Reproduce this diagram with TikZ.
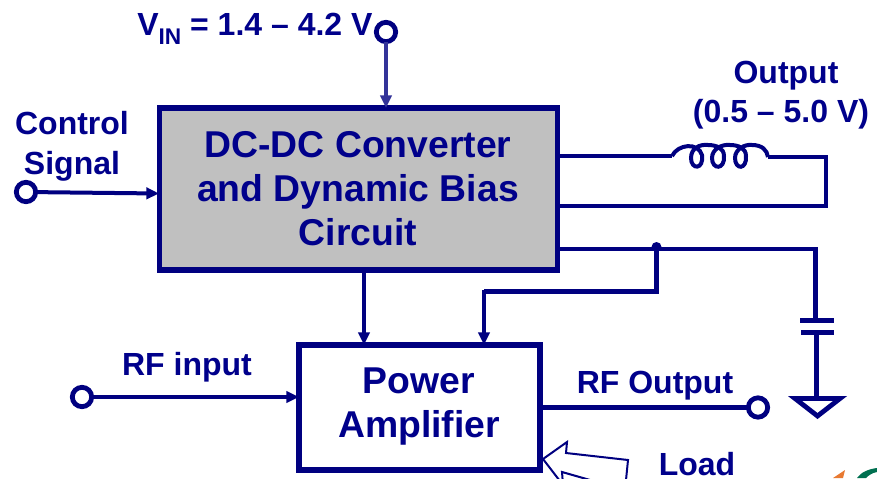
\documentclass[tikz,border=0pt]{standalone}
\usepackage{fontspec}
\setmainfont{Liberation Sans}
\usetikzlibrary{arrows.meta}
\definecolor{navy}{RGB}{0,0,139}
\definecolor{wirec}{RGB}{0,0,128}
\definecolor{pale}{RGB}{51,51,153}
\definecolor{boxgray}{RGB}{192,192,192}
\definecolor{logoorange}{RGB}{232,122,50}
\definecolor{logogreen}{RGB}{0,112,80}
\tikzset{
 wire/.style={draw=wirec,line width=3.4pt,line cap=butt,line join=miter},
 thin wire/.style={draw=wirec,line width=3pt},
 arr/.style={-{Triangle[length=9.5pt,width=8.5pt]}},
 term/.style={circle,draw=wirec,fill=white,line width=3.6pt,minimum size=14.5pt,inner sep=0pt,outer sep=0pt},
 block/.style={draw=wirec,line width=3.8pt,inner sep=0pt,outer sep=0pt,anchor=north west},
 lbl/.style={text=navy,font=\bfseries\fontsize{24}{33}\selectfont,inner sep=0pt},
 title/.style={text=navy,font=\bfseries\fontsize{28}{33}\selectfont,align=center,inner sep=0pt}
}
\begin{document}
\begin{tikzpicture}[x=0.75pt,y=-0.75pt]
\useasboundingbox (0,0) rectangle (877,478);
% blocks
\node[block,fill=boxgray,minimum width=298.5pt,minimum height=121.5pt] (dc) at (159.5,108) {};
\node[block,fill=white,minimum width=180.75pt,minimum height=93.75pt] (pa) at (299,345) {};
\node[title] (dctext) at (358,189) {DC-DC Converter\\and Dynamic Bias\\Circuit};
\node[title] (patext) at (419,407) {Power\\Amplifier};
% terminals
\node[term] (vin) at (386,32) {};
\node[term] (ctl) at (26,192) {};
\node[term] (rfi) at (82,397) {};
\node[term] (rfo) at (758,407.5) {};
% coordinates
\coordinate (vinEnd) at (vin|-dc.north);
\coordinate (ctlEnd) at (159,193.5);
\coordinate (rfiEnd) at (pa.west|-rfi);
\coordinate (L1) at (672,156);
\coordinate (L2) at (768,157);
\coordinate (R1) at (826,157);
\coordinate (R2) at (826,206);
\coordinate (P1) at (557,206);
\coordinate (P0) at (557,156);
\coordinate (J) at (656.5,249);
% connectors
\draw[draw=pale,line width=3.4pt,arr] (vin) -- (vinEnd);
\draw[thin wire,arr] (ctl) -- (ctlEnd);
\draw[thin wire,arr] (rfi) -- (rfiEnd);
\draw[wire] (rfo) -- (pa.east|-rfo);
\draw[wire,arr] (364,270) -- (364,345);
\draw[wire] (P0) -- (L1);
\draw[wire] (L2) -- (R1) -- (R2) -- (P1);
% inductor
\draw[wire,line width=3pt]
 (L1) .. controls (678,144) and (698,142) .. (702,155)
 .. controls (704,170) and (691,170) .. (691,158)
 .. controls (691,148) and (700,144) .. (708,145)
 .. controls (716,145) and (724,148) .. (724,156)
 .. controls (725,170) and (712,170) .. (712,158)
 .. controls (712,149) and (722,144) .. (730,145)
 .. controls (738,145) and (746,148) .. (746,156)
 .. controls (747,170) and (735,170) .. (735,158)
 .. controls (735,149) and (745,144) .. (752,145)
 .. controls (762,145) and (767,150) .. (L2);
% bias
\draw[wire] (557,249) -- (815.5,249) -- (815.5,320);
\draw[wire] (J) -- (656.5,291.5) -- (484,291.5);
\draw[wire,arr] (484,290) -- (484,345);
\fill[wirec] (656.5,247) circle (5);
% capacitor
\draw[wire,line width=3.8pt] (800,320.5) -- (834,320.5);
\draw[wire,line width=3.8pt] (801,332.5) -- (834,332.5);
\draw[wire] (816.5,332.5) -- (816.5,398);
\draw[wire,fill=white,line width=3.6pt] (795,398.5) -- (840,398.5) -- (817.5,416) -- cycle;
% load arrow
\draw[draw=wirec,line width=1.5pt,fill=white,line join=miter]
 (543,459) -- (567,442) -- (566,453) -- (628,460) -- (625,490) -- (562,472) -- (563,485) -- cycle;
% labels
\node[lbl,anchor=base] (l1) at (72,134) {Control};
\node[lbl,anchor=base] (l2) at (72,174) {Signal};
\node[lbl,anchor=base west] (l3) at (137,36) {V\raisebox{-0.28em}{\fontsize{17}{17}\selectfont IN} = 1.4 – 4.2 V};
\node[lbl,anchor=base] (l4) at (786,84) {Output};
\node[lbl,anchor=base] (l5) at (781,122) {(0.5 – 5.0 V)};
\node[lbl,anchor=base] (l6) at (187,375) {RF input};
\node[lbl,anchor=base] (l7) at (655,393) {RF Output};
\node[lbl,anchor=base] (l8) at (697,475) {Load};
% logo fragment
\fill[logoorange] (833,478) -- (845,470) -- (843,478) -- cycle;
\fill[logogreen] (857,478) .. controls (861,472) and (869,469) .. (877,468) -- (877,472) .. controls (872,473) and (869,475) .. (866,478) -- cycle;
\end{tikzpicture}
\end{document}
